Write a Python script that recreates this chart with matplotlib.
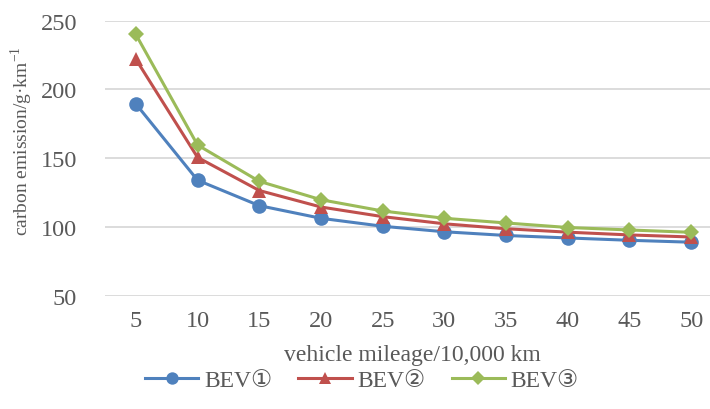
import matplotlib.pyplot as plt
import numpy as np

plt.rcParams['font.family'] = ['Liberation Serif', 'DejaVu Sans']
plt.rcParams['mathtext.fontset'] = 'custom'
plt.rcParams['mathtext.rm'] = 'Liberation Serif'

mileage = [5, 10, 15, 20, 25, 30, 35, 40, 45, 50]
bev1 = [189.5, 134, 115.5, 106.3, 100.5, 96.5, 93.8, 92, 90.3, 88.9]
bev2 = [222, 150.6, 126.5, 114.5, 107.5, 102.3, 98.7, 96.2, 94.2, 92.7]
bev3 = [240, 159.6, 133.2, 119.8, 111.6, 106.3, 102.9, 99.6, 97.8, 96.1]
yticks = [50, 100, 150, 200, 250]

series = [
    ("BEV①", bev1, "#4F81BD", "o", 10.5),
    ("BEV②", bev2, "#C0504D", "^", 10.5),
    ("BEV③", bev3, "#9BBB59", "D", 8),
]

text_color = "#595959"
W, H = 710, 410
fig = plt.figure(figsize=(W / 100, H / 100), dpi=100)
ax = fig.add_axes([105 / W, 1 - 296.7 / H, 617 / W, 275 / H])

x = np.arange(len(mileage))
for name, vals, color, marker, ms in series:
    ax.plot(x, vals, color=color, lw=2.2, marker=marker, markersize=ms,
            markeredgewidth=0, label=name)

ax.set_xlim(-0.5, len(mileage) - 0.5)
ax.set_ylim(50, 250)
ax.set_yticks(yticks)
ax.set_xticks(x)
ax.set_xticklabels([str(m) for m in mileage])
ax.grid(axis='y', color="#D9D9D9", lw=1.3)
ax.set_axisbelow(True)
for s in ax.spines.values():
    s.set_visible(False)
ax.tick_params(length=0, labelsize=17.5, labelcolor=text_color)
ax.tick_params(axis='y', pad=20)
ax.tick_params(axis='x', pad=10)

fig.text(412 / W, 1 - 356 / H, "vehicle mileage/10,000 km", ha='center', va='center',
         fontsize=17, color=text_color)
fig.text(22 / W, 1 - 141 / H, r"carbon emission/g·km$^{-1}$", ha='center', va='center',
         rotation=90, fontsize=14, color=text_color)

leg = fig.legend(loc='center', bbox_to_anchor=(362 / W, 1 - 381 / H), ncol=3, frameon=False,
                 fontsize=17, handlelength=2.25, columnspacing=1.1, handletextpad=0.25,
                 labelcolor=text_color)
for h in leg.legend_handles:
    h.set_markersize(h.get_markersize() * 0.85)

fig.savefig("out.png", dpi=100)
